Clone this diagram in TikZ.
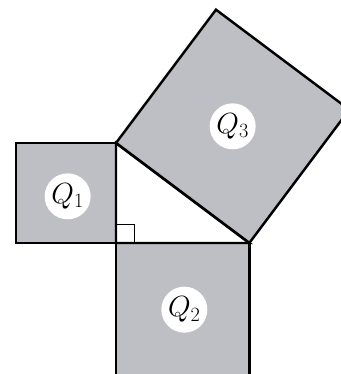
\documentclass[tikz,border=0pt]{standalone}
\usepackage{amsmath}
\usetikzlibrary{calc}
\definecolor{squaregray}{RGB}{190,191,196}
\tikzset{
  square/.style={draw, line width=2.1pt, fill=squaregray, line join=miter},
  side/.style={draw, line width=2.1pt, line join=miter},
  rightmark/.style={draw, line width=0.9pt},
  labelcircle/.style={circle, fill=white, minimum size=1.38cm, inner sep=0pt,
    font=\fontsize{26}{30}\selectfont},
}

\begin{document}
\begin{tikzpicture}
    \useasboundingbox (-3.48,-3.93) rectangle (6.75,7.29);
    \coordinate (c) at (0,0);
    \coordinate (a) at (0,3);
    \coordinate (b) at (4,0);

    % squares on the sides
    \draw[square] (c) -- (a) -- ($(a)+(-3,0)$) -- ($(c)+(-3,0)$) -- cycle;
    \draw[square] (c) -- (b) -- ($(b)+(0,-4)$) -- ($(c)+(0,-4)$) -- cycle;
    \draw[square] (a) -- (b) -- ($(b)+(3,4)$) -- ($(a)+(3,4)$) -- cycle;

    % triangle and right angle
    \draw[side] (c) -- (a) -- (b) -- cycle;
    \draw[rightmark] ($(c)+(0,0.55)$) -| ($(c)+(0.55,0)$);

    \node[labelcircle] (q1) at ($(c)+(-1.45,1.4)$) {$Q_1$};
    \node[labelcircle] (q2) at ($(c)+(2.05,-2)$) {$Q_2$};
    \node[labelcircle] (q3) at ($(a)!0.5!(b)+(1.5,2)$) {$Q_3$};
\end{tikzpicture}
\end{document}
